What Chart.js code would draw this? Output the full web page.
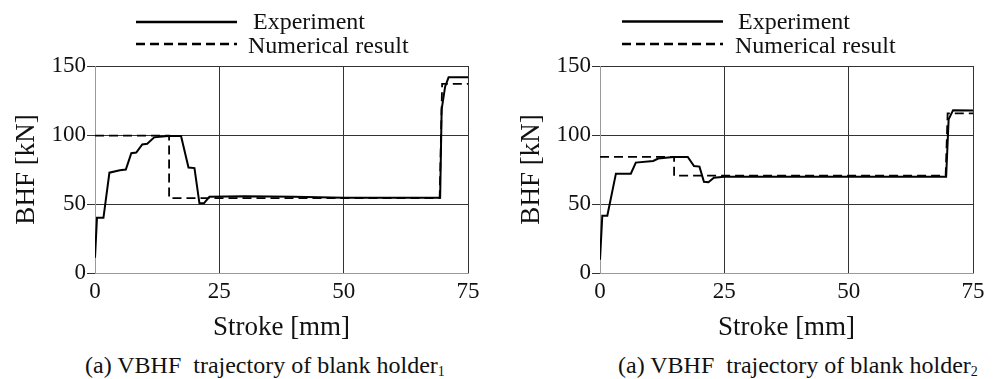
<!DOCTYPE html>
<html>
<head>
<meta charset="utf-8">
<script src="https://cdn.jsdelivr.net/npm/chart.js@4/dist/chart.umd.min.js"></script>
<style>
  html, body { margin: 0; padding: 0; background: #fff; }
  #wrap { position: relative; width: 998px; height: 379px; overflow: hidden; }
  canvas { position: absolute; top: 0; }
  .caption {
    position: absolute; top: 353px; line-height: 24px;
    font-family: "Liberation Serif", "Times New Roman", serif;
    font-size: 24px; color: #111; white-space: nowrap;
  }
  .caption sub { font-size: 14px; vertical-align: -3px; line-height: 0; }
</style>
</head>
<body>
<div id="wrap">
  <canvas id="c1" width="499" height="345" style="left:0"></canvas>
  <canvas id="c2" width="499" height="345" style="left:499px"></canvas>
  <div class="caption" style="left:85px">(a) VBHF&nbsp; trajectory of blank holder<sub>1</sub></div>
  <div class="caption" style="left:618px">(a) VBHF&nbsp; trajectory of blank holder<sub>2</sub></div>
</div>
<script>
// Blank holder 1 — measured force along the stroke
const strokeExp1 = [0, 0.4, 1.7, 2.9, 5.0, 6.2, 7.3, 8.3, 9.5, 10.5, 11.9, 14.7, 17.3, 18.8, 20.0, 21.0, 21.9, 23.0, 30, 40, 50, 69.4, 69.7, 70.4, 71.1, 75];
const bhfExp1    = [11, 40, 40, 72.7, 74.4, 75, 86.8, 87.3, 93.2, 93.6, 98.3, 99.2, 99.2, 76.4, 76, 50.5, 50.5, 55.2, 55.6, 55.3, 54.6, 54.6, 118.5, 135, 141.8, 141.8];
// Blank holder 1 — simulated force
const strokeNum1 = [0, 14.9, 14.9, 69.3, 69.8, 75];
const bhfNum1    = [99.6, 99.6, 54.3, 54.3, 137, 137];

// Blank holder 2 — measured force along the stroke
const strokeExp2 = [0, 0.46, 1.47, 3.2, 6.2, 7.2, 10.7, 11.7, 14.75, 17.65, 18.9, 20.0, 20.9, 21.8, 22.9, 25, 40, 55, 69.6, 70.1, 71.0, 75];
const bhfExp2    = [9.6, 41.5, 41.5, 72, 72, 80, 81.2, 82.9, 84.1, 84.1, 77.5, 77.1, 66.1, 65.8, 69.0, 69.8, 69.8, 69.8, 69.8, 111.4, 118, 117.8];
// Blank holder 2 — simulated force
const strokeNum2 = [0, 14.9, 14.9, 69.5, 69.9, 75];
const bhfNum2    = [84.2, 84.2, 70.5, 70.5, 115.6, 115.6];

// Axis settings
const strokeTicks = [0, 25, 50, 75];
const bhfTicks    = [0, 50, 100, 150];
const seriesNames = ['Experiment', 'Numerical result'];

const SERIF = '"Liberation Serif", "Times New Roman", serif';
const DASH = [9, 5];

function toPoints(xs, ys) {
  return xs.map((x, i) => ({ x: x, y: ys[i] }));
}

// Two-row legend with long line samples drawn above the plot
const sampleLegend = {
  id: 'sampleLegend',
  afterDraw(chart, args, opts) {
    const ctx = chart.ctx;
    ctx.save();
    ctx.font = '24px ' + SERIF;
    ctx.fillStyle = '#111';
    ctx.textBaseline = 'alphabetic';
    chart.data.datasets.forEach((ds, i) => {
      const row = opts.rows[i];
      ctx.beginPath();
      ctx.strokeStyle = '#000';
      ctx.lineWidth = 2.5;
      ctx.setLineDash(ds.borderDash || []);
      ctx.moveTo(opts.x0, row.lineY);
      ctx.lineTo(opts.x1, row.lineY);
      ctx.stroke();
      ctx.setLineDash([]);
      ctx.fillText(ds.label, row.textX, row.textY);
    });
    ctx.restore();
  }
};

function makeChart(id, expX, expY, numX, numY, yWidth, padRight, yTitlePad, legendPos) {
  const last = strokeTicks.length - 1;
  return new Chart(document.getElementById(id), {
    type: 'line',
    data: {
      datasets: [
        {
          label: seriesNames[0],
          data: toPoints(expX, expY),
          borderColor: '#000', borderWidth: 2, pointRadius: 0,
          tension: 0, fill: false
        },
        {
          label: seriesNames[1],
          data: toPoints(numX, numY),
          borderColor: '#000', borderWidth: 1.8, borderDash: DASH,
          pointRadius: 0, tension: 0, fill: false
        }
      ]
    },
    options: {
      responsive: false,
      animation: false,
      devicePixelRatio: 1,
      layout: { padding: { top: 66, right: padRight, bottom: 0, left: 0 } },
      plugins: {
        legend: { display: false },
        tooltip: { enabled: false },
        sampleLegend: legendPos
      },
      scales: {
        x: {
          type: 'linear', min: strokeTicks[0], max: strokeTicks[last],
          afterBuildTicks: s => { s.ticks = strokeTicks.map(v => ({ value: v })); },
          afterFit: s => { s.height = 72; },
          ticks: { color: '#111', font: { family: SERIF, size: 23 }, padding: 5, maxRotation: 0 },
          grid: {
            drawTicks: false, lineWidth: 1,
            color: c => c.index === 0 ? '#9a9a9a' : '#333'
          },
          border: { color: '#9a9a9a', width: 1 },
          title: {
            display: true, text: 'Stroke [mm]', color: '#111',
            font: { family: SERIF, size: 27 }, padding: { top: 0, bottom: 1 }
          }
        },
        y: {
          type: 'linear', min: bhfTicks[0], max: bhfTicks[bhfTicks.length - 1],
          afterBuildTicks: s => { s.ticks = bhfTicks.map(v => ({ value: v })); },
          afterFit: s => { s.width = yWidth; },
          ticks: { color: '#111', font: { family: SERIF, size: 23 }, padding: 1 },
          grid: {
            tickLength: 8, lineWidth: 1,
            color: c => c.index === 0 ? '#9a9a9a' : '#333',
            tickColor: '#333'
          },
          border: { color: '#9a9a9a', width: 1 },
          title: {
            display: true, text: 'BHF [kN]', color: '#111',
            font: { family: SERIF, size: 27 }, padding: { top: yTitlePad, bottom: 0 }
          }
        }
      }
    },
    plugins: [sampleLegend]
  });
}

makeChart('c1', strokeExp1, bhfExp1, strokeNum1, bhfNum1, 95, 31, 11, {
  x0: 136, x1: 237,
  rows: [
    { lineY: 22, textX: 253, textY: 28.5 },
    { lineY: 44, textX: 248, textY: 52.5 }
  ]
});

makeChart('c2', strokeExp2, bhfExp2, strokeNum2, bhfNum2, 101, 25, 16.5, {
  x0: 123, x1: 224,
  rows: [
    { lineY: 21.5, textX: 239, textY: 28.5 },
    { lineY: 44, textX: 236, textY: 52.5 }
  ]
});
</script>
</body>
</html>
